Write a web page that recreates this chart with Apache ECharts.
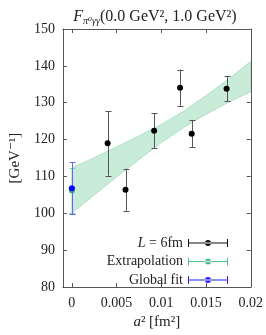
<!DOCTYPE html>
<html>
<head>
<meta charset="utf-8">
<script src="https://cdn.jsdelivr.net/npm/echarts@6/dist/echarts.min.js"></script>
<style>
html,body{margin:0;padding:0;background:#fff;}
#c{width:266px;height:335px;}
</style>
</head>
<body>
<div id="c"></div>
<script>
// ---- data ----
const xTicks = [0, 0.005, 0.01, 0.015, 0.02];
const yTicks = [80, 90, 100, 110, 120, 130, 140, 150];
// L = 6fm points
const ptX = [0.0040, 0.0060, 0.0092, 0.0121, 0.0134, 0.0173];
const ptY = [119.0, 106.4, 122.4, 134.1, 121.6, 133.8];
const ptErr = [8.8, 5.7, 4.8, 4.9, 3.6, 3.4];
// extrapolation
const extrapX = [0];
const extrapY = [106.2];
const extrapErr = [6.1];
// global fit
const gfX = [0];
const gfY = [106.8];
const gfErr = [7.0];
// extrapolation band
const bandX = [0, 0.0025, 0.005, 0.0075, 0.01, 0.0125, 0.015, 0.0175, 0.02];
const bandLow = [100.1, 105.0, 109.9, 114.6, 119.2, 123.3, 126.9, 130.1, 133.0];
const bandHigh = [112.3, 115.1, 118.0, 121.0, 124.1, 127.7, 131.9, 136.4, 141.2];

const serif = "'Liberation Serif','DejaVu Serif',serif";

function zip3(a, b, c) { return a.map((v, i) => [v, b[i], c[i]]); }

function errRender(color) {
  return function (params, api) {
    const x = api.value(0), y = api.value(1), e = api.value(2);
    const t = api.coord([x, y + e]);
    const b = api.coord([x, y - e]);
    const px = Math.round(t[0]) + 0.5;
    const hw = 3;
    const st = { stroke: color, lineWidth: 1 };
    return {
      type: 'group',
      children: [
        { type: 'line', shape: { x1: px, y1: t[1], x2: px, y2: b[1] }, style: st },
        { type: 'line', shape: { x1: px - hw, y1: Math.round(t[1]) + 0.5, x2: px + hw, y2: Math.round(t[1]) + 0.5 }, style: st },
        { type: 'line', shape: { x1: px - hw, y1: Math.round(b[1]) + 0.5, x2: px + hw, y2: Math.round(b[1]) + 0.5 }, style: st }
      ]
    };
  };
}

const iconPath = 'path://M0,0h1v8h-1z M39,0h1v8h-1z M0,3.5h40v1h-40z M17,4a3,3 0 1,0 6,0a3,3 0 1,0 -6,0z';

const chart = echarts.init(document.getElementById('c'), null, { renderer: 'canvas' });
chart.setOption({
  animation: false,
  backgroundColor: '#fff',
  title: {
    text: '{i|F}{sub|π⁰γγ}{n|(0.0 GeV², 1.0 GeV²)}',
    left: 150, top: 3, textAlign: 'center',
    textStyle: {
      fontWeight: 'normal',
      rich: {
        i: { fontFamily: serif, fontStyle: 'italic', fontWeight: 'normal', fontSize: 16, color: '#222', lineHeight: 18, verticalAlign: 'middle' },
        sub: { fontFamily: serif, fontStyle: 'italic', fontWeight: 'normal', fontSize: 10, color: '#222', lineHeight: 10, verticalAlign: 'bottom' },
        n: { fontFamily: serif, fontWeight: 'normal', fontSize: 16, color: '#222', lineHeight: 18, verticalAlign: 'middle' }
      }
    }
  },
  grid: { left: 56, right: 13, top: 29, bottom: 40, containLabel: false },
  legend: {
    orient: 'vertical',
    right: 33, top: 231,
    align: 'right',
    itemWidth: 40, itemHeight: 8, itemGap: 4.5,
    selectedMode: false,
    data: [
      { name: 'L = 6fm', icon: iconPath },
      { name: 'Extrapolation', icon: iconPath },
      { name: 'Global fit', icon: iconPath }
    ],
    formatter: function (n) { return n === 'L = 6fm' ? '{i|L} = 6fm' : n; },
    textStyle: {
      fontFamily: serif, fontSize: 14, color: '#222', lineHeight: 14,
      rich: { i: { fontFamily: serif, fontStyle: 'italic', fontSize: 14, color: '#222' } }
    }
  },
  xAxis: [{
    type: 'value', min: -0.001, max: 0.02,
    name: '{i|a}² [fm²]', nameLocation: 'middle', nameGap: 27,
    nameTextStyle: { fontFamily: serif, fontSize: 15, color: '#222', rich: { i: { fontFamily: serif, fontStyle: 'italic', fontSize: 15, color: '#222' } } },
    splitLine: { show: false },
    axisLine: { show: true, onZero: false, lineStyle: { color: '#555', width: 1 } },
    axisTick: { show: true, inside: true, length: 4, customValues: xTicks, lineStyle: { color: '#555' } },
    axisLabel: { customValues: xTicks, margin: 9, fontFamily: serif, fontSize: 14, color: '#222', formatter: v => String(+v.toFixed(3)) }
  }, {
    type: 'value', min: -0.001, max: 0.02, position: 'top',
    splitLine: { show: false },
    axisLine: { show: true, onZero: false, lineStyle: { color: '#555', width: 1 } },
    axisTick: { show: true, inside: true, length: 4, customValues: xTicks, lineStyle: { color: '#555' } },
    axisLabel: { show: false }
  }],
  yAxis: [{
    type: 'value', min: 80, max: 150, interval: 10,
    name: '[GeV⁻¹]', nameLocation: 'middle', nameGap: 36,
    nameTextStyle: { fontFamily: serif, fontSize: 15, color: '#222' },
    splitLine: { show: false },
    axisLine: { show: true, onZero: false, lineStyle: { color: '#555', width: 1 } },
    axisTick: { show: true, inside: true, length: 4, lineStyle: { color: '#555' } },
    axisLabel: { margin: 8, fontFamily: serif, fontSize: 14, color: '#222' }
  }, {
    type: 'value', min: 80, max: 150, interval: 10, position: 'right',
    splitLine: { show: false },
    axisLine: { show: true, onZero: false, lineStyle: { color: '#555', width: 1 } },
    axisTick: { show: true, inside: true, length: 4, lineStyle: { color: '#555' } },
    axisLabel: { show: false }
  }],
  series: [
    {
      type: 'custom', name: 'band', silent: true, z: 1,
      data: [[0, 0]],
      renderItem: function (params, api) {
        const pts = [];
        for (let i = 0; i < bandX.length; i++) pts.push(api.coord([bandX[i], bandHigh[i]]));
        for (let i = bandX.length - 1; i >= 0; i--) pts.push(api.coord([bandX[i], bandLow[i]]));
        return { type: 'polygon', shape: { points: pts }, style: { fill: '#c8ecd8', stroke: '#9fd9ba', lineWidth: 0.8 } };
      },
      clip: true
    },
    {
      type: 'custom', name: 'Extrapolation', z: 2,
      itemStyle: { color: '#4cc38a' },
      data: zip3(extrapX, extrapY, extrapErr),
      renderItem: errRender('#7fd6aa')
    },
    {
      type: 'scatter', name: 'Extrapolation', z: 3,
      symbolSize: 6, itemStyle: { color: '#3cb878', opacity: 1 },
      data: extrapX.map((x, i) => [x, extrapY[i]])
    },
    {
      type: 'custom', name: 'Global fit', z: 4,
      itemStyle: { color: '#2020ff' },
      data: zip3(gfX, gfY, gfErr),
      renderItem: errRender('#6666ff')
    },
    {
      type: 'scatter', name: 'Global fit', z: 5,
      symbolSize: 6, itemStyle: { color: '#0000ff', opacity: 1 },
      data: gfX.map((x, i) => [x, gfY[i]])
    },
    {
      type: 'custom', name: 'L = 6fm', z: 6,
      itemStyle: { color: '#111' },
      data: zip3(ptX, ptY, ptErr),
      renderItem: errRender('#555')
    },
    {
      type: 'scatter', name: 'L = 6fm', z: 7,
      symbolSize: 6, itemStyle: { color: '#000', opacity: 1 },
      data: ptX.map((x, i) => [x, ptY[i]])
    }
  ]
});
</script>
</body>
</html>
